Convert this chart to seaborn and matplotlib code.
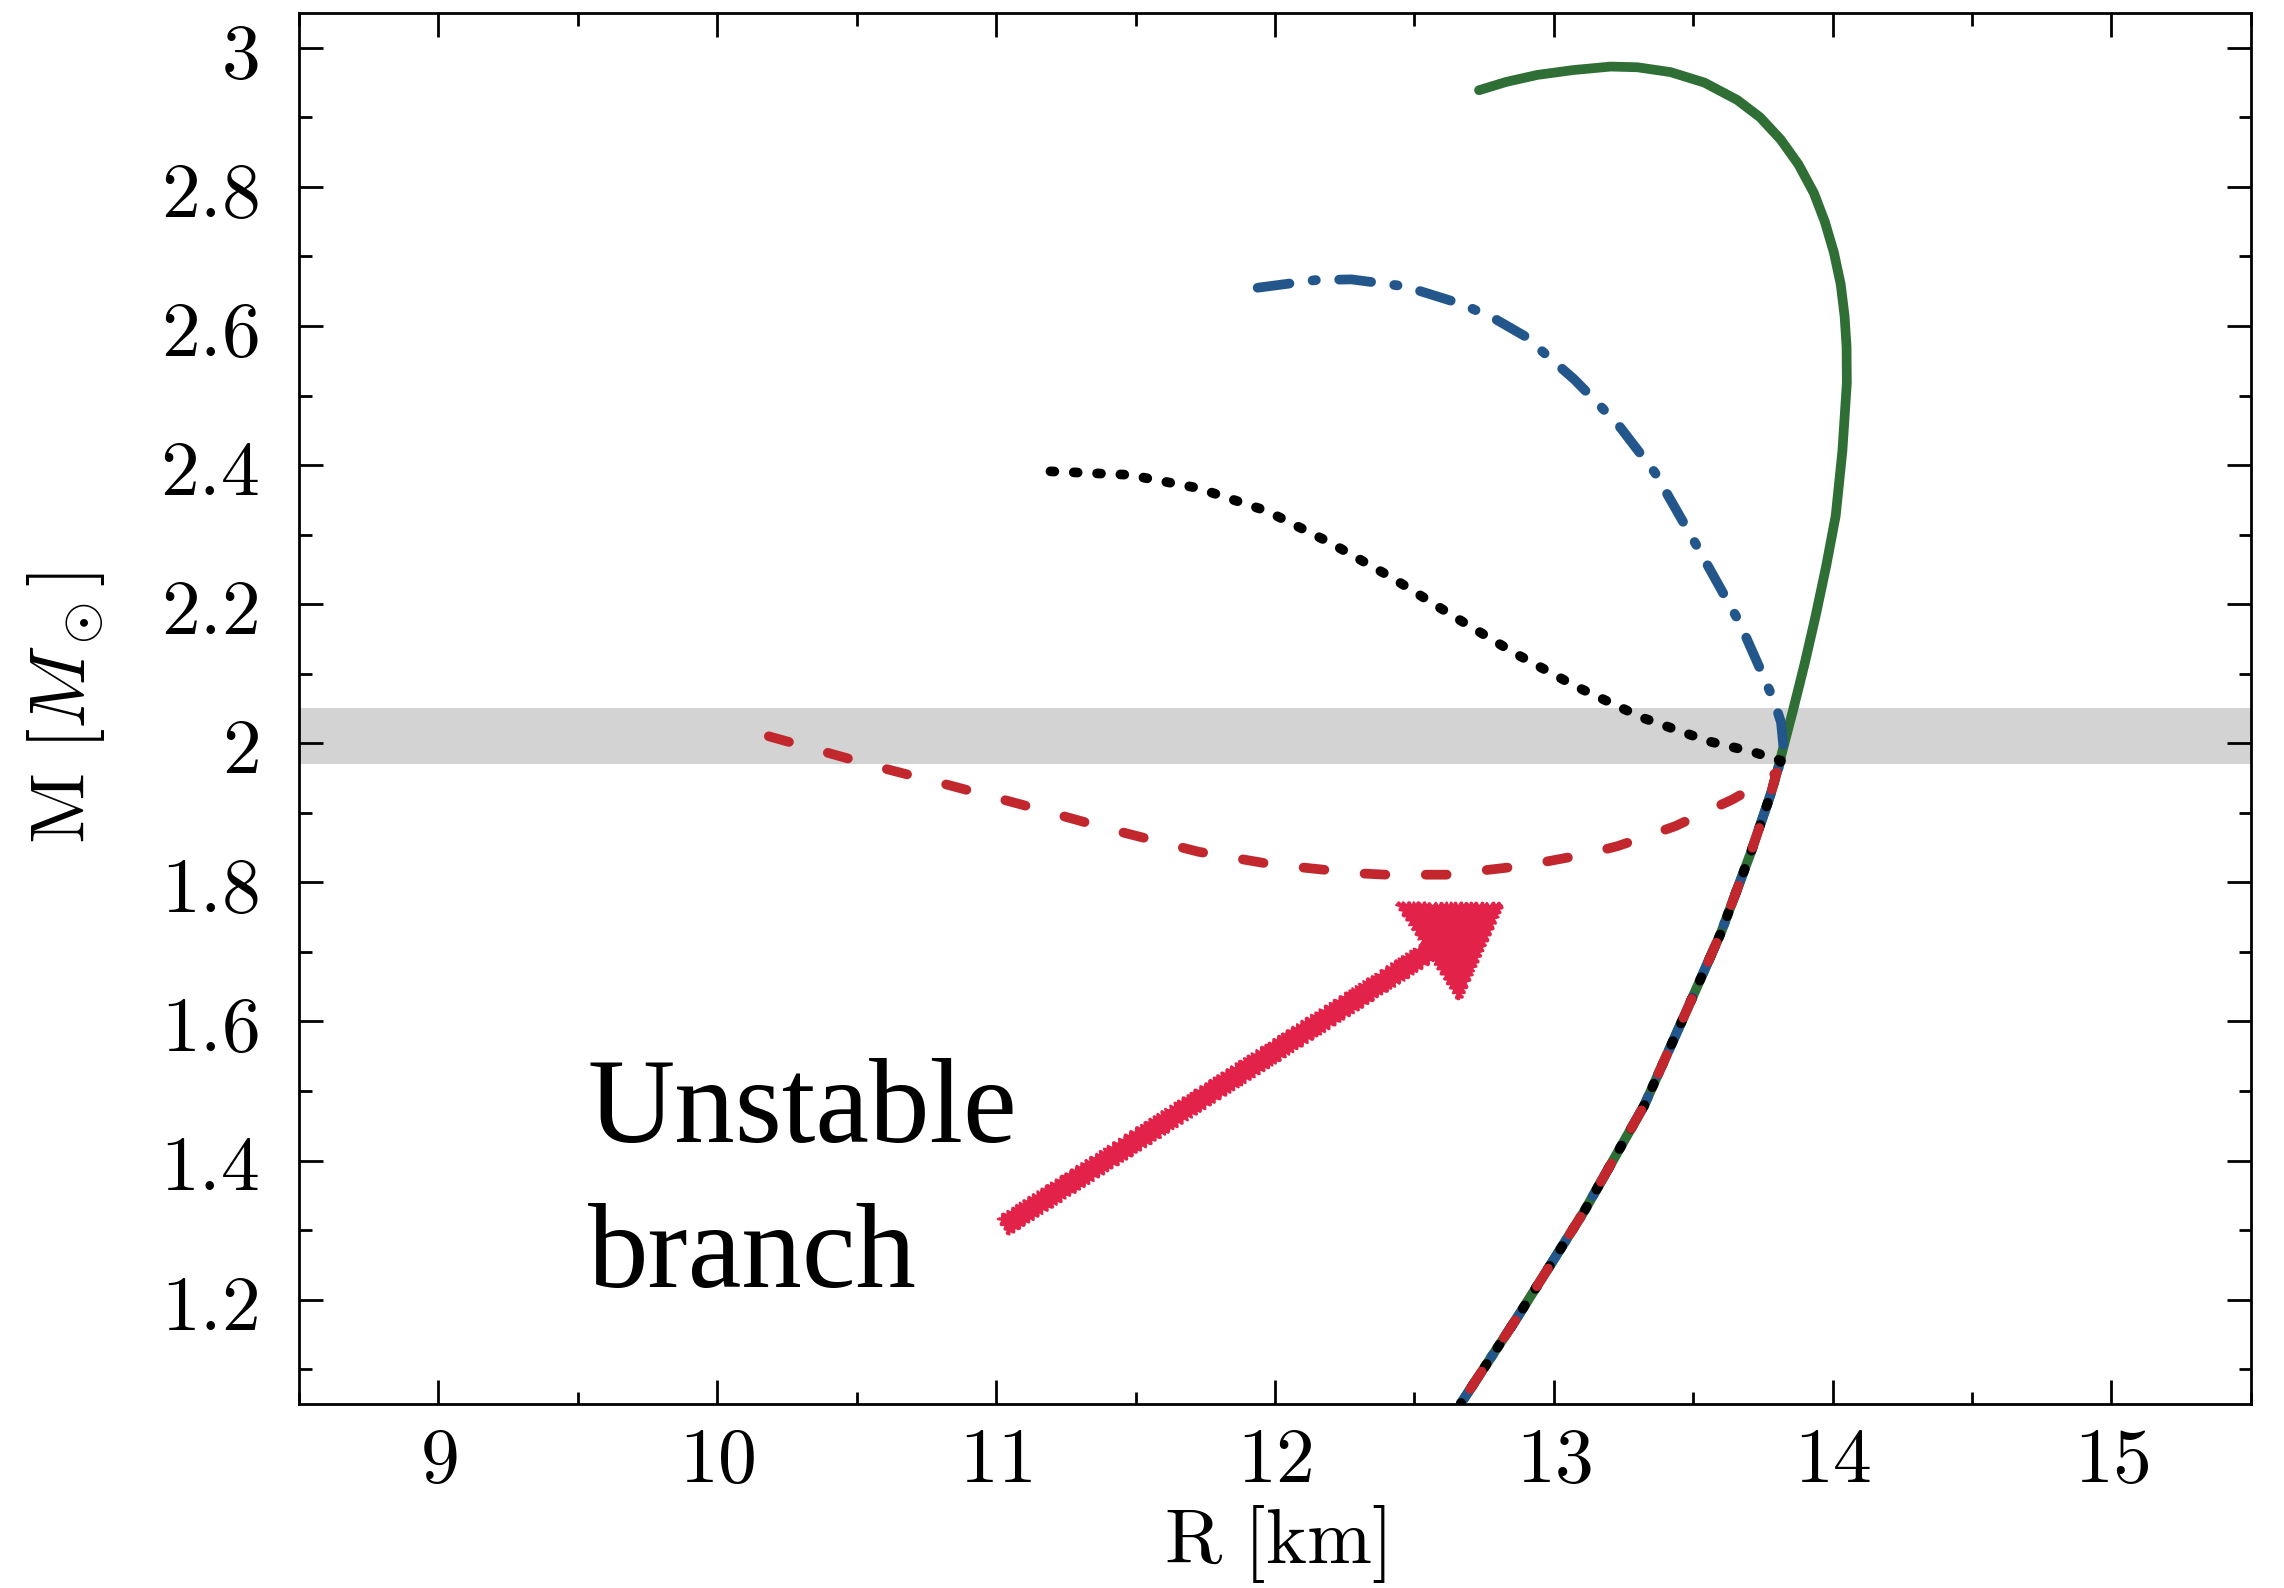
import matplotlib
matplotlib.use("Agg")
import matplotlib.pyplot as plt
import seaborn as sns
import pandas as pd
from matplotlib.ticker import MultipleLocator, FuncFormatter

# ---------------- data ----------------
# common (stable) lower branch shared by all four curves
common_R = [12.667, 12.870, 13.109, 13.324, 13.479, 13.599, 13.706, 13.778, 13.800]
common_M = [1.051, 1.175, 1.327, 1.479, 1.618, 1.727, 1.842, 1.927, 1.958]

# green solid (continues above the junction)
green_R = [13.859, 13.900, 13.939, 13.977, 14.011, 14.035, 14.051, 14.050,
           14.043, 14.029, 14.005, 13.972, 13.933, 13.878, 13.814, 13.740,
           13.658, 13.540, 13.419, 13.300, 13.204, 13.070, 12.941, 12.830,
           12.732]
green_M = [2.049, 2.115, 2.183, 2.255, 2.327, 2.420, 2.518, 2.570,
           2.614, 2.660, 2.705, 2.750, 2.791, 2.832, 2.868, 2.900,
           2.925, 2.950, 2.965, 2.972, 2.973, 2.968, 2.961, 2.951,
           2.939]

# blue dash-dot
blue_R = [13.826, 13.815, 13.790, 13.730, 13.667, 13.507, 13.363, 13.235,
          13.155, 13.074, 12.898, 12.790, 12.674, 12.466, 12.274, 12.146, 11.938]
blue_M = [1.985, 2.030, 2.061, 2.116, 2.173, 2.288, 2.389, 2.456,
          2.490, 2.523, 2.585, 2.610, 2.631, 2.657, 2.667, 2.666, 2.655]

# black dotted
black_R = [13.815, 13.718, 13.554, 13.316, 13.078, 12.858, 12.639, 12.420,
           12.200, 11.971, 11.724, 11.477, 11.195]
black_M = [1.975, 1.987, 2.003, 2.037, 2.082, 2.130, 2.183, 2.238,
           2.288, 2.334, 2.367, 2.386, 2.391]

# red dashed
red_R = [13.724, 13.640, 13.527, 13.437, 13.324, 13.228, 13.109, 12.894,
         12.614, 12.400, 12.300, 11.987, 11.726, 11.413, 11.099, 10.838,
         10.577, 10.185]
red_M = [1.938, 1.919, 1.898, 1.881, 1.865, 1.852, 1.840, 1.824,
         1.811, 1.811, 1.813, 1.826, 1.844, 1.876, 1.911, 1.939,
         1.966, 2.010]

band_low, band_high = 1.97, 2.05

x_ticks = [9, 10, 11, 12, 13, 14, 15]
y_ticks = [1.2, 1.4, 1.6, 1.8, 2.0, 2.2, 2.4, 2.6, 2.8, 3.0]

arrow_tail = (11.028, 1.306)
arrow_tip = (12.815, 1.768)
text_lines = ["Unstable", "branch"]
text_pos = [(9.535, 1.426), (9.535, 1.218)]

# ---------------- style ----------------
sns.set_theme(style="ticks")
plt.rcParams["mathtext.fontset"] = "cm"
plt.rcParams["font.family"] = ["DejaVu Serif"]
plt.rcParams["axes.linewidth"] = 2.0
for key in ["text.color", "axes.labelcolor", "xtick.color", "ytick.color",
            "xtick.labelcolor", "ytick.labelcolor", "axes.edgecolor"]:
    plt.rcParams[key] = "black"

fig = plt.figure(figsize=(22.84, 15.88), dpi=100)
ax = fig.add_axes([0.1309, 0.1159, 0.8546, 0.8759])

ax.axhspan(band_low, band_high, color="#d3d3d3", lw=0, zorder=0)

def curve(R_up, M_up):
    # drawn starting from the free (upper) end, ending on the common branch
    R = common_R + R_up
    M = common_M + M_up
    return pd.DataFrame({"R": R[::-1], "M": M[::-1]})

lw = 7.0
specs = [
    (green_R, green_M, "#2f6e35", "-", 2),
    (blue_R, blue_M, "#23578b", (0, (3.3, 2.4, 0.34, 2.4)), 3),
    (black_R, black_M, "black", (0, (0.4, 2.0)), 4),
    (red_R, red_M, "#c1272d", (0, (2.15, 4.15)), 5),
]
for R_up, M_up, col, ls, z in specs:
    df = curve(R_up, M_up)
    n_before = len(ax.lines)
    sns.lineplot(data=df, x="R", y="M", sort=False, estimator=None, ax=ax,
                 color=col, linestyle=ls, zorder=z)
    for ln in ax.lines[n_before:]:
        ln.set_linewidth(lw)
        ln.set_linestyle(ls)
        ln.set_dash_capstyle("round")
        ln.set_solid_capstyle("round")

# hand-drawn style arrow
ann = ax.annotate("", xy=arrow_tip, xytext=arrow_tail,
                  arrowprops=dict(arrowstyle="simple,head_length=63,head_width=82,tail_width=13",
                                  mutation_scale=1, color="#e32249", lw=1.5,
                                  shrinkA=0, shrinkB=0), zorder=6)
ann.arrow_patch.set_sketch_params(2.0, 6.0, 2.0)

for t, (x, y) in zip(text_lines, text_pos):
    ax.text(x, y, t, fontsize=87, family="Liberation Serif", color="black",
            ha="left", va="baseline", zorder=7)

ax.set_xlim(8.5, 15.5)
ax.set_ylim(1.05, 3.05)
ax.set_xticks(x_ticks)
ax.set_yticks(y_ticks)
ax.xaxis.set_minor_locator(MultipleLocator(0.5))
ax.yaxis.set_minor_locator(MultipleLocator(0.1))
fmt = FuncFormatter(lambda v, p: r"$%s$" % format(round(v, 2), "g"))
ax.xaxis.set_major_formatter(fmt)
ax.yaxis.set_major_formatter(fmt)
ax.tick_params(which="both", direction="in", top=True, right=True,
               width=2, color="black", labelcolor="black")
ax.tick_params(which="major", length=17.5, labelsize=56, pad=13)
ax.tick_params(axis="y", which="major", pad=29)
ax.tick_params(which="minor", length=9)
for s in ax.spines.values():
    s.set_color("black")
    s.set_linewidth(2)

ax.set_xlabel(r"$\mathrm{R\ [km]}$", fontsize=56, labelpad=4, color="black")
ax.set_ylabel(r"$\mathrm{M}\ [M_\odot]$", fontsize=56, labelpad=38, color="black")

fig.savefig("out.png", dpi=100, facecolor="white")
